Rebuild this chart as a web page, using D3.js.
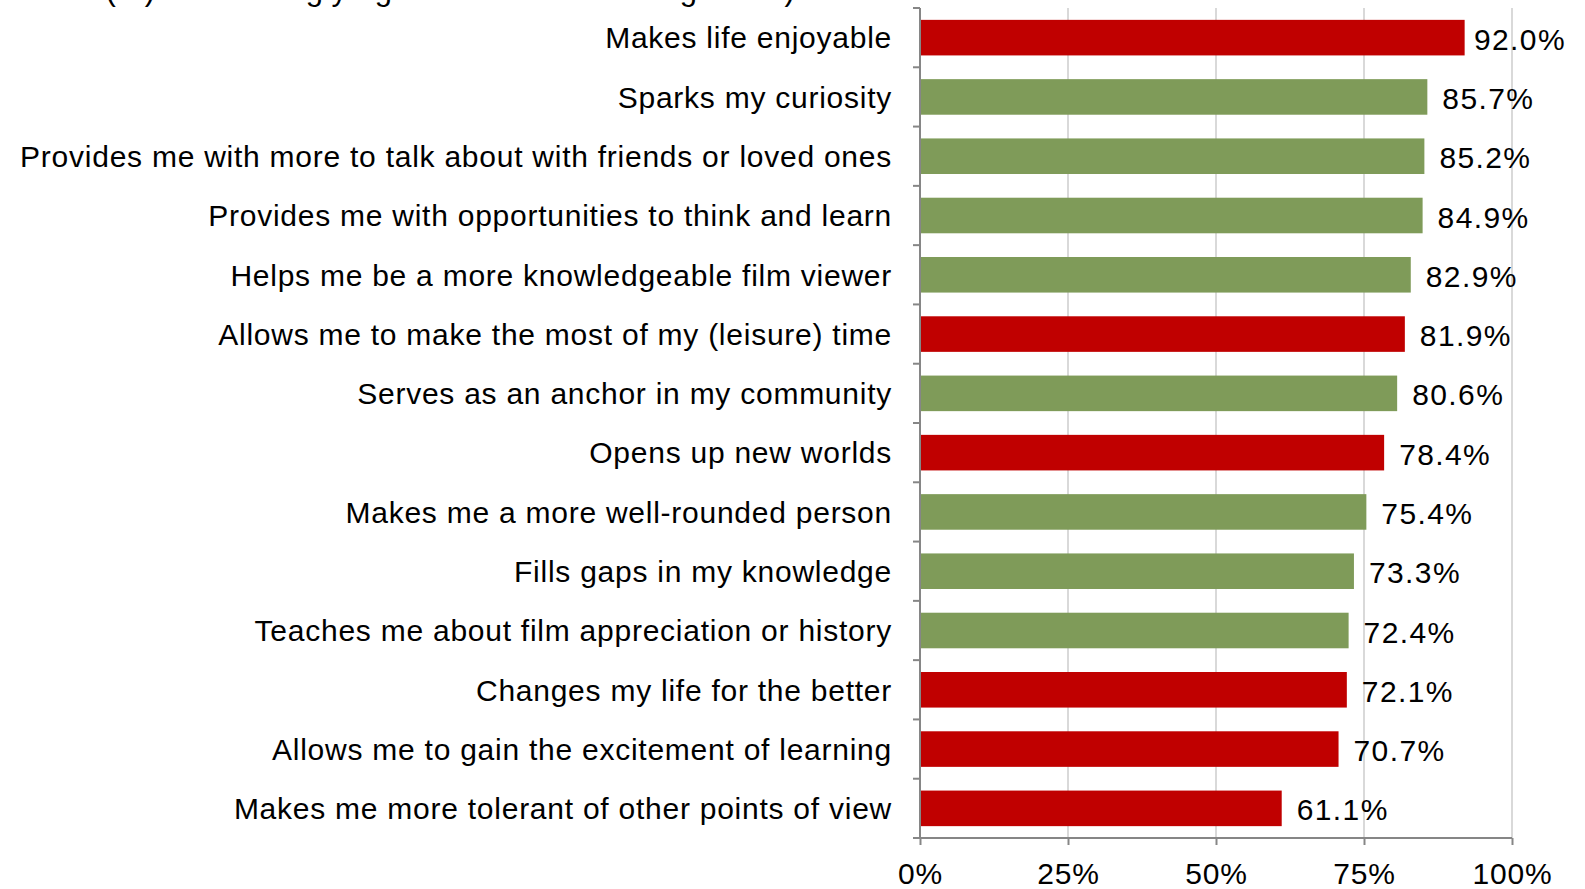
<!DOCTYPE html>
<html>
<head>
<meta charset="utf-8">
<script src="https://cdn.jsdelivr.net/npm/d3@7"></script>
<style>
  html, body { margin: 0; padding: 0; background: #fff; }
  svg { display: block; font-family: "Liberation Sans", Arial, sans-serif; }
</style>
</head>
<body>
<svg id="chart" width="1585" height="889"></svg>
<script>
// Statements, share agreeing (%), and which group each statement belongs to
const categories = [
  "Makes life enjoyable",
  "Sparks my curiosity",
  "Provides me with more to talk about with friends or loved ones",
  "Provides me with opportunities to think and learn",
  "Helps me be a more knowledgeable film viewer",
  "Allows me to make the most of my (leisure) time",
  "Serves as an anchor in my community",
  "Opens up new worlds",
  "Makes me a more well-rounded person",
  "Fills gaps in my knowledge",
  "Teaches me about film appreciation or history",
  "Changes my life for the better",
  "Allows me to gain the excitement of learning",
  "Makes me more tolerant of other points of view"
];
const values = [92.0, 85.7, 85.2, 84.9, 82.9, 81.9, 80.6, 78.4, 75.4, 73.3, 72.4, 72.1, 70.7, 61.1];
const groups = ["life", "film", "film", "film", "film", "life", "film", "life", "film", "film", "film", "life", "life", "life"];
const xTicks = [0, 25, 50, 75, 100];
const titleText = "Share (%) who strongly agree with the following items)";

const groupColor = { life: "#C00000", film: "#7F9B59" };

const FONT = 30;
const svg = d3.select("#chart");
const margin = { top: 8, right: 73, bottom: 51, left: 920 };
const W = 1585, H = 889;
const innerW = W - margin.left - margin.right;
const innerH = H - margin.top - margin.bottom;

const x = d3.scaleLinear().domain([0, 100]).range([0, innerW]);
const y = d3.scaleBand().domain(categories).range([0, innerH]).paddingInner(0.4).paddingOuter(0.2);

// Title line sitting above the plot (runs off the top edge)
svg.append("text")
  .attr("x", 10).attr("y", 0)
  .attr("font-size", 31).attr("fill", "#000")
  .attr("letter-spacing", 0.7)
  .text(titleText);

const g = svg.append("g").attr("transform", `translate(${margin.left},${margin.top})`);

// Vertical gridlines
g.append("g").selectAll("line")
  .data(xTicks.filter(t => t > 0))
  .join("line")
  .attr("x1", d => x(d)).attr("x2", d => x(d))
  .attr("y1", 0).attr("y2", innerH)
  .attr("stroke", "#D9D9D9").attr("stroke-width", 2);

// Bars
g.append("g").selectAll("rect")
  .data(categories)
  .join("rect")
  .attr("x", 0)
  .attr("y", d => y(d))
  .attr("width", (d, i) => x(values[i]))
  .attr("height", y.bandwidth())
  .attr("fill", (d, i) => groupColor[groups[i]]);

// Value labels, kept inside the right edge of the chart
const maxRight = W - margin.left - 19;
g.append("g").selectAll("text")
  .data(categories)
  .join("text")
  .attr("y", d => y(d) + y.bandwidth() / 2)
  .attr("dy", "0.4em")
  .attr("font-size", FONT)
  .attr("letter-spacing", 1.4)
  .attr("fill", "#000")
  .text((d, i) => values[i].toFixed(1) + "%")
  .attr("x", function (d, i) {
    const w = this.getComputedTextLength();
    return Math.min(x(values[i]) + 15, maxRight - w);
  });

// Category axis: line with ticks at band boundaries
const yAxis = g.append("g");
yAxis.append("line")
  .attr("x1", 0).attr("x2", 0).attr("y1", 0).attr("y2", innerH)
  .attr("stroke", "#868686").attr("stroke-width", 2);
const step = y.step();
yAxis.selectAll("line.tick")
  .data(d3.range(categories.length + 1))
  .join("line").attr("class", "tick")
  .attr("x1", -7).attr("x2", 0)
  .attr("y1", i => i * step).attr("y2", i => i * step)
  .attr("stroke", "#868686").attr("stroke-width", 2);
yAxis.selectAll("text")
  .data(categories)
  .join("text")
  .attr("x", -28)
  .attr("y", d => y(d) + y.bandwidth() / 2)
  .attr("dy", "0.36em")
  .attr("text-anchor", "end")
  .attr("font-size", FONT)
  .attr("letter-spacing", 0.75)
  .attr("fill", "#000")
  .text(d => d);

// Value axis at the bottom
const xAxis = g.append("g").attr("transform", `translate(0,${innerH})`)
  .call(d3.axisBottom(x).tickValues(xTicks).tickFormat(d => d + "%").tickSize(7).tickPadding(18).tickSizeOuter(0));
xAxis.select(".domain").attr("stroke", "#868686").attr("stroke-width", 2).attr("d", `M-7,0H${innerW}`);
xAxis.selectAll(".tick line").attr("stroke", "#868686").attr("stroke-width", 2);
xAxis.selectAll(".tick text")
  .attr("font-size", FONT).attr("fill", "#000")
  .attr("letter-spacing", 0.8)
  .attr("font-family", "\"Liberation Sans\", Arial, sans-serif");
</script>
</body>
</html>
